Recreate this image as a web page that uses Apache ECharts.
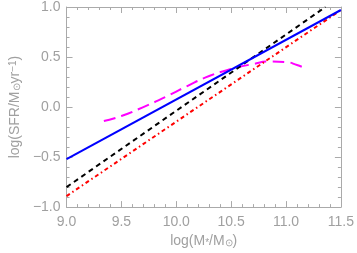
<!DOCTYPE html>
<html><head><meta charset="utf-8">
<script src="https://cdn.jsdelivr.net/npm/echarts@6/dist/echarts.min.js"></script>
<style>html,body{margin:0;padding:0;background:#fff}#c{width:357px;height:253px}</style>
</head><body><div id="c"></div>
<script>
const xTicks = [9.0, 9.5, 10.0, 10.5, 11.0, 11.5];
const yTicks = [-1.0, -0.5, 0.0, 0.5, 1.0];
const blueX = [9.0, 11.5];
const blueY = [-0.52, 0.97];
const blackX = [9.0, 11.36];
const blackY = [-0.80, 1.0];
const redX = [9.0, 11.5];
const redY = [-0.89, 0.97];
const magX = [9.34, 9.5, 9.7, 9.9, 10.1, 10.3, 10.5, 10.7, 10.85, 11.0, 11.1, 11.17];
const magY = [-0.14, -0.09, 0.0, 0.1, 0.21, 0.31, 0.38, 0.43, 0.455, 0.45, 0.42, 0.39];

const zip = (a, b) => a.map((v, i) => [v, b[i]]);
const gray = '#a0a0a0';
const frame = '#aaa';
const font = 'Liberation Sans, Arial, sans-serif';

function axisBase(extra) {
  return Object.assign({
    type: 'value',
    axisLine: { show: true, onZero: false, lineStyle: { color: frame, width: 1 } },
    axisTick: { show: true, inside: true, length: 6, lineStyle: { color: frame } },
    minorTick: { show: true, splitNumber: 5, length: 3, lineStyle: { color: frame } },
    splitLine: { show: false },
    axisLabel: { show: false }
  }, extra);
}

const chart = echarts.init(document.getElementById('c'), null, { renderer: 'canvas' });
chart.setOption({
  animation: false,
  grid: { left: 58, right: 13, top: 2, bottom: 41 },
  xAxis: [
    axisBase({
      min: 9.0, max: 11.5, interval: 0.5, position: 'bottom',
      axisLabel: { show: true, color: gray, fontSize: 14, fontFamily: font, margin: 8,
        formatter: v => v.toFixed(1) },
      name: '{a|log(M}{s|*}{a|/M}{s|⊙}{a|)}',
      nameLocation: 'middle', nameGap: 25,
      nameTextStyle: { rich: {
        a: { color: gray, fontSize: 14, fontFamily: font },
        s: { color: gray, fontSize: 10, fontFamily: font, verticalAlign: 'bottom' }
      } }
    }),
    axisBase({ min: 9.0, max: 11.5, interval: 0.5, position: 'top' })
  ],
  yAxis: [
    axisBase({
      min: -1.0, max: 1.0, interval: 0.5, position: 'left',
      axisLabel: { show: true, color: gray, fontSize: 14, fontFamily: font, margin: 6,
        formatter: v => (v < 0 ? '\u2212' : '') + Math.abs(v).toFixed(1) },
      name: '{a|log(SFR/M}{s|⊙}{a|yr}{p|−1}{a|)}',
      nameLocation: 'middle', nameGap: 40,
      nameTextStyle: { rich: {
        a: { color: gray, fontSize: 14, fontFamily: font },
        s: { color: gray, fontSize: 10, fontFamily: font, verticalAlign: 'bottom' },
        p: { color: gray, fontSize: 10, fontFamily: font, verticalAlign: 'top' }
      } }
    }),
    axisBase({ min: -1.0, max: 1.0, interval: 0.5, position: 'right' })
  ],
  series: [
    { type: 'line', data: zip(magX, magY), smooth: true, showSymbol: false,
      lineStyle: { color: '#ff00ff', width: 2, type: [12, 6] } },
    { type: 'line', data: zip(redX, redY), showSymbol: false,
      lineStyle: { color: '#ff0000', width: 2, type: [4, 3, 1.5, 3] } },
    { type: 'line', data: zip(blackX, blackY), showSymbol: false,
      lineStyle: { color: '#000000', width: 2, type: [5, 4] } },
    { type: 'line', data: zip(blueX, blueY), showSymbol: false,
      lineStyle: { color: '#0000ff', width: 2, type: 'solid' } }
  ]
});
</script></body></html>
